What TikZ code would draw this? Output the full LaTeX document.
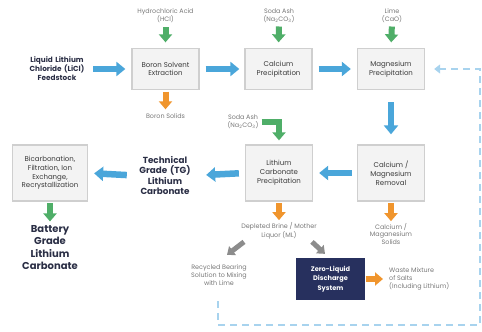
\documentclass[tikz,border=0pt]{standalone}
\usepackage{fontspec}
\setmainfont{Poppins}
\usetikzlibrary{arrows.meta,calc}
\definecolor{ablue}{HTML}{4AA6DA}
\definecolor{agreen}{HTML}{4FAE68}
\definecolor{aorange}{HTML}{F0952D}
\definecolor{agrey}{HTML}{8C8C8C}
\definecolor{navy}{HTML}{27305E}
\definecolor{boxfill}{HTML}{F3F3F3}
\definecolor{boxline}{HTML}{CFCFCF}
\definecolor{labtext}{HTML}{777777}
\definecolor{boxtext}{HTML}{3A3A3A}
\definecolor{titletext}{HTML}{2A2E45}
\definecolor{dashblue}{HTML}{A8D3EE}
\begin{document}
\begin{tikzpicture}[x=1pt,y=-1pt,
  procbox/.style={draw=boxline, fill=boxfill, line width=1.3pt, minimum width=67pt,
    align=center, text=boxtext, font=\fontsize{7}{8.8}\selectfont, inner sep=1pt},
  lab/.style={align=center, text=labtext, font=\fontsize{6.4}{7.6}\selectfont, inner sep=0pt},
  ttl/.style={align=center, text=titletext, font=\bfseries\fontsize{7.3}{9}\selectfont, inner sep=0pt},
  barrow/.style={line width=6.5pt, -{Triangle[width=14pt,length=9pt]}},
  garrow/.style={barrow, agreen, line width=6pt, -{Triangle[width=13pt,length=8pt]}},
  oarrow/.style={barrow, aorange, line width=6pt, -{Triangle[width=13pt,length=8pt]}},
  grarrow/.style={agrey, line width=5pt, -{Triangle[width=11pt,length=7pt]}},
  dashline/.style={dashblue, line width=1.6pt, dash pattern=on 7pt off 5pt, -{Triangle[width=9pt,length=6pt]}}
]
\useasboundingbox (0,0) rectangle (482,332);

% process boxes
\node[procbox, minimum height=41pt] (boron) at (165.5,69) {Boron Solvent\\Extraction};
\node[procbox, minimum height=41pt] (calcium) at (278.5,69) {Calcium\\Precipitation};
\node[procbox, minimum height=41pt] (magnesium) at (391,69) {Magnesium\\Precipitation};
\node[procbox, minimum height=56pt] (removal) at (391,173) {Calcium /\\Magnesium\\Removal};
\node[procbox, minimum height=56pt] (lithium) at (279,173) {Lithium\\Carbonate\\Precipitation};
\node[procbox, minimum height=56pt, minimum width=75pt] (bicarb) at (50,173) {Bicarbonation,\\Filtration, Ion\\Exchange,\\Recrystallization};
\node[procbox, minimum height=40pt, fill=navy, draw=navy, text=white, font=\bfseries\fontsize{6.6}{9.4}\selectfont] (zld) at (330.5,279) {Zero-Liquid\\Discharge\\System};

% titles
\node[ttl, text width=56pt] (feed) at (57,69) {Liquid Lithium\\Chloride (LiCl)\\Feedstock};
\node[ttl, text width=60pt, font=\bfseries\fontsize{8.8}{10.3}\selectfont] (tg) at (165,175.5) {Technical\\Grade (TG)\\Lithium\\Carbonate};
\node[ttl, font=\bfseries\fontsize{10}{12.2}\selectfont] (battery) at (50,247.5) {Battery\\Grade\\Lithium\\Carbonate};

% labels
\node[lab] (hcl) at (165.5,15.5) {Hydrochloric Acid\\(HCl)};
\node[lab] (soda1) at (279,15.5) {Soda Ash\\(Na\textsubscript{2}CO\textsubscript{3})};
\node[lab] (lime) at (392,15.5) {Lime\\(CaO)};
\node[lab] (boronsolids) at (165.5,116) {Boron Solids};
\node[lab] (soda2) at (243,121.5) {Soda Ash\\(Na\textsubscript{2}CO\textsubscript{3})};
\node[lab] (depleted) at (279,230.5) {Depleted Brine / Mother\\Liquor (ML)};
\node[lab] (casolids) at (391,234) {Calcium /\\Maganesium\\Solids};
\node[lab] (recycled) at (219,275) {Recycled Bearing\\Solution to Mixing\\with Lime};
\node[lab, align=left, anchor=west] (waste) at (389,279) {Waste Mixture\\of Salts\\(Including Lithium)};

% green inputs
\draw[garrow, shorten <=4pt, shorten >=5.5pt] (hcl.south) -- (boron.north);
\draw[garrow, shorten <=4pt, shorten >=5.5pt] (soda1.south) -- (calcium.north);
\draw[garrow, shorten <=4pt, shorten >=5.5pt] (lime.south) -- (magnesium.north);
\draw[garrow, line join=miter, shorten <=3pt, shorten >=4pt] (soda2.east) -| (lithium.north);
\draw[garrow, shorten <=1.5pt, shorten >=4pt] (bicarb.south) -- (battery.north);

% blue main flow
\draw[barrow, ablue, shorten <=8pt, shorten >=6pt] (feed.east) -- (boron.west);
\draw[barrow, ablue, shorten <=6pt, shorten >=5pt] (boron.east) -- (calcium.west);
\draw[barrow, ablue, shorten <=6pt, shorten >=6pt] (calcium.east) -- (magnesium.west);
\draw[barrow, ablue, shorten <=12pt, shorten >=10pt] (magnesium.south) -- (removal.north);
\draw[barrow, ablue, shorten <=5pt, shorten >=6pt] (removal.west) -- (lithium.east);
\draw[barrow, ablue, shorten <=6pt, shorten >=11pt] (lithium.west) -- (tg.east);
\draw[barrow, ablue, shorten <=8pt, shorten >=6pt] (tg.west) -- (bicarb.east);

% orange outputs
\draw[oarrow, shorten <=1.5pt, shorten >=4pt] (boron.south) -- (boronsolids.north);
\draw[oarrow, shorten <=1.5pt, shorten >=2pt] (lithium.south) -- (depleted.north);
\draw[oarrow, shorten <=1.5pt, shorten >=2pt] (removal.south) -- (casolids.north);
\draw[oarrow, shorten <=1pt, shorten >=6pt] (zld.east) -- (waste.west);

% grey splits
\draw[grarrow] ($(depleted.south)+(-35,3)$) -- ($(depleted.south)+(-52,16)$);
\draw[grarrow] ($(depleted.south)+(33,3)$) -- ($(depleted.south)+(46,15)$);

% recycle dashed line
\draw[dashline] ($(recycled.south)+(-1,16)$) |- (480,325) |- ($(magnesium.east)+(9,0)$);
\end{tikzpicture}
\end{document}
